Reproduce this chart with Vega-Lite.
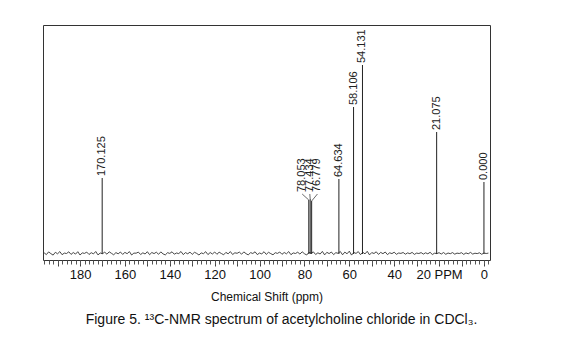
{
  "$schema": "https://vega.github.io/schema/vega-lite/v6.json",
  "width": 447,
  "height": 235,
  "autosize": "none",
  "padding": {"left": 43, "top": 25, "right": 79, "bottom": 85},
  "background": "white",
  "config": {
    "view": {"stroke": "#333", "strokeWidth": 1},
    "font": "Liberation Sans"
  },
  "title": {
    "text": "Figure 5. ¹³C-NMR spectrum of acetylcholine chloride in CDCl₃.",
    "orient": "bottom",
    "anchor": "middle",
    "offset": 11,
    "dx": 15,
    "fontSize": 14,
    "fontWeight": "normal",
    "font": "Liberation Sans",
    "color": "#111"
  },
  "datasets": {
    "noise": [
      {"ppm":196,"v":1.2},{"ppm":195,"v":-0.6},{"ppm":194,"v":2.1},{"ppm":193,"v":0.4},{"ppm":192,"v":-1.1},{"ppm":191,"v":1.7},{"ppm":190,"v":0.2},{"ppm":189,"v":2.4},{"ppm":188,"v":-0.7},{"ppm":187,"v":0.9},
      {"ppm":186,"v":0.5},{"ppm":185,"v":2.2},{"ppm":184,"v":-0.4},{"ppm":183,"v":1.5},{"ppm":182,"v":-0.1},{"ppm":181,"v":2.3},{"ppm":180,"v":-1.0},{"ppm":179,"v":1.1},{"ppm":178,"v":0.6},{"ppm":177,"v":1.9},
      {"ppm":176,"v":-0.5},{"ppm":175,"v":1.3},{"ppm":174,"v":0.1},{"ppm":173,"v":2.5},{"ppm":172,"v":-0.9},{"ppm":171,"v":1.0},{"ppm":170,"v":0.3},{"ppm":169,"v":1.8},{"ppm":168,"v":-0.2},{"ppm":167,"v":2.2},
      {"ppm":166,"v":0.7},{"ppm":165,"v":-0.8},{"ppm":164,"v":1.4},{"ppm":163,"v":0.2},{"ppm":162,"v":2.0},{"ppm":161,"v":-0.4},{"ppm":160,"v":1.6},{"ppm":159,"v":0.3},{"ppm":158,"v":2.4},{"ppm":157,"v":-1.0},
      {"ppm":156,"v":0.9},{"ppm":155,"v":0.8},{"ppm":154,"v":1.9},{"ppm":153,"v":-0.5},{"ppm":152,"v":1.2},{"ppm":151,"v":0.0},{"ppm":150,"v":2.3},{"ppm":149,"v":-0.7},{"ppm":148,"v":1.5},{"ppm":147,"v":0.4},
      {"ppm":146,"v":1.8},{"ppm":145,"v":-0.3},{"ppm":144,"v":2.1},{"ppm":143,"v":0.1},{"ppm":142,"v":-0.9},{"ppm":141,"v":1.3},{"ppm":140,"v":0.6},{"ppm":139,"v":2.2},{"ppm":138,"v":-0.2},{"ppm":137,"v":1.0},
      {"ppm":136,"v":0.4},{"ppm":135,"v":2.5},{"ppm":134,"v":-0.6},{"ppm":133,"v":1.4},{"ppm":132,"v":0.2},{"ppm":131,"v":1.9},{"ppm":130,"v":-0.4},{"ppm":129,"v":1.7},{"ppm":128,"v":0.6},{"ppm":127,"v":-1.0},
      {"ppm":126,"v":1.1},{"ppm":125,"v":0.3},{"ppm":124,"v":2.3},{"ppm":123,"v":-0.6},{"ppm":122,"v":1.5},{"ppm":121,"v":0.0},{"ppm":120,"v":2.0},{"ppm":119,"v":-0.3},{"ppm":118,"v":1.8},{"ppm":117,"v":0.5},
      {"ppm":116,"v":-0.8},{"ppm":115,"v":1.6},{"ppm":114,"v":0.2},{"ppm":113,"v":2.4},{"ppm":112,"v":-0.5},{"ppm":111,"v":1.2},{"ppm":110,"v":0.7},{"ppm":109,"v":1.9},{"ppm":108,"v":-0.2},{"ppm":107,"v":2.1},
      {"ppm":106,"v":0.3},{"ppm":105,"v":-0.9},{"ppm":104,"v":1.4},{"ppm":103,"v":0.5},{"ppm":102,"v":2.2},{"ppm":101,"v":-0.6},{"ppm":100,"v":1.0},{"ppm":99,"v":0.1},{"ppm":98,"v":2.3},{"ppm":97,"v":-0.4},
      {"ppm":96,"v":1.7},{"ppm":95,"v":0.4},{"ppm":94,"v":-0.8},{"ppm":93,"v":1.3},{"ppm":92,"v":0.6},{"ppm":91,"v":2.0},{"ppm":90,"v":-0.3},{"ppm":89,"v":1.5},{"ppm":88,"v":0.2},{"ppm":87,"v":2.4},
      {"ppm":86,"v":-0.7},{"ppm":85,"v":1.1},{"ppm":84,"v":0.5},{"ppm":83,"v":1.8},{"ppm":82,"v":-0.1},{"ppm":81,"v":2.2},{"ppm":80,"v":0.3},{"ppm":79,"v":-1.0},{"ppm":78,"v":1.6},{"ppm":77,"v":0.8},
      {"ppm":76,"v":2.1},{"ppm":75,"v":-0.5},{"ppm":74,"v":1.2},{"ppm":73,"v":0.0},{"ppm":72,"v":2.6},{"ppm":71,"v":-0.9},{"ppm":70,"v":1.7},{"ppm":69,"v":0.4},{"ppm":68,"v":2.0},{"ppm":67,"v":-0.6},
      {"ppm":66,"v":1.3},{"ppm":65,"v":0.7},{"ppm":64,"v":2.5},{"ppm":63,"v":-0.8},{"ppm":62,"v":1.9},{"ppm":61,"v":0.2},{"ppm":60,"v":2.8},{"ppm":59,"v":-1.1},{"ppm":58,"v":1.5},{"ppm":57,"v":0.6},
      {"ppm":56,"v":2.4},{"ppm":55,"v":-0.7},{"ppm":54,"v":1.8},{"ppm":53,"v":0.1},{"ppm":52,"v":2.7},{"ppm":51,"v":-0.9},{"ppm":50,"v":1.4},{"ppm":49,"v":0.5},{"ppm":48,"v":2.2},{"ppm":47,"v":-0.4},
      {"ppm":46,"v":1.6},{"ppm":45,"v":0.3},{"ppm":44,"v":2.0},{"ppm":43,"v":-0.6},{"ppm":42,"v":1.2},{"ppm":41,"v":0.4},{"ppm":40,"v":1.8},{"ppm":39,"v":-0.3},{"ppm":38,"v":1.0},{"ppm":37,"v":0.6},
      {"ppm":36,"v":1.5},{"ppm":35,"v":-0.2},{"ppm":34,"v":1.1},{"ppm":33,"v":0.3},{"ppm":32,"v":1.6},{"ppm":31,"v":-0.4},{"ppm":30,"v":0.9},{"ppm":29,"v":0.5},{"ppm":28,"v":1.4},{"ppm":27,"v":-0.1},
      {"ppm":26,"v":1.2},{"ppm":25,"v":0.2},{"ppm":24,"v":1.7},{"ppm":23,"v":-0.5},{"ppm":22,"v":0.8},{"ppm":21,"v":0.4},{"ppm":20,"v":1.3},{"ppm":19,"v":0.0},{"ppm":18,"v":1.5},{"ppm":17,"v":-0.3},
      {"ppm":16,"v":1.0},{"ppm":15,"v":0.3},{"ppm":14,"v":1.4},{"ppm":13,"v":-0.2},{"ppm":12,"v":0.9},{"ppm":11,"v":0.5},{"ppm":10,"v":1.3},{"ppm":9,"v":-0.4},{"ppm":8,"v":1.1},{"ppm":7,"v":0.2},
      {"ppm":6,"v":1.6},{"ppm":5,"v":-0.1},{"ppm":4,"v":0.8},{"ppm":3,"v":0.4},{"ppm":2,"v":1.2},{"ppm":1,"v":-0.3},{"ppm":0,"v":1.0},{"ppm":-1,"v":0.5},{"ppm":-2,"v":0.9}
    ],
    "peaks": [
      {"ppm":170.125,"h":76,"lp":170.125,"lh":76,"label":"170.125"},
      {"ppm":78.053,"h":54,"lp":81.0,"lh":60,"label":"78.053"},
      {"ppm":77.434,"h":55,"lp":77.6,"lh":60,"label":"77.434"},
      {"ppm":76.779,"h":53,"lp":74.2,"lh":60,"label":"76.779"},
      {"ppm":64.634,"h":75,"lp":64.634,"lh":75,"label":"64.634"},
      {"ppm":58.106,"h":147,"lp":58.106,"lh":147,"label":"58.106"},
      {"ppm":54.131,"h":189,"lp":54.131,"lh":189,"label":"54.131"},
      {"ppm":21.075,"h":122,"lp":21.075,"lh":122,"label":"21.075"},
      {"ppm":0.0,"h":72,"lp":0.0,"lh":72,"label":"0.000"}
    ]
  },
  "resolve": {"axis": {"x": "independent"}},
  "layer": [
    {
      "data": {"name": "noise"},
      "mark": {"type": "line", "color": "#333", "strokeWidth": 0.9},
      "encoding": {
        "x": {
          "field": "ppm", "type": "quantitative",
          "scale": {"domain": [196.5, -2.7], "nice": false, "zero": false},
          "axis": {
            "orient": "bottom",
            "values": [190,180,170,160,150,140,130,120,110,100,90,80,70,60,50,40,30,20,10,0],
            "labelExpr": "datum.value == 20 ? '20 PPM' : (datum.value % 20 == 0 ? datum.label : '')",
            "domain": false,
            "grid": false,
            "tickSize": 6,
            "tickColor": "#444",
            "labelFontSize": 13,
            "labelFont": "Liberation Sans",
            "labelColor": "#111",
            "labelPadding": 2,
            "labelFlush": false,
            "labelOverlap": false,
            "title": "Chemical Shift (ppm)",
            "titleFont": "Liberation Sans",
            "titleFontSize": 12,
            "titleFontWeight": "normal",
            "titleColor": "#111",
            "titlePadding": 10
          }
        },
        "y": {
          "field": "v", "type": "quantitative",
          "scale": {"domain": [-6, 229], "nice": false, "zero": false},
          "axis": null
        }
      }
    },
    {
      "data": {"name": "peaks"},
      "mark": {"type": "rule", "color": "#222", "strokeWidth": 1},
      "encoding": {
        "x": {
          "field": "ppm", "type": "quantitative",
          "axis": {
            "orient": "bottom",
            "values": [196,194,192,190,188,186,184,182,180,178,176,174,172,170,168,166,164,162,160,158,156,154,152,150,148,146,144,142,140,138,136,134,132,130,128,126,124,122,120,118,116,114,112,110,108,106,104,102,100,98,96,94,92,90,88,86,84,82,80,78,76,74,72,70,68,66,64,62,60,58,56,54,52,50,48,46,44,42,40,38,36,34,32,30,28,26,24,22,20,18,16,14,12,10,8,6,4,2,0,-2],
            "labels": false,
            "domain": false,
            "grid": false,
            "tickSize": 4,
            "tickColor": "#555",
            "title": null
          }
        },
        "y": {"field": "h", "type": "quantitative", "axis": null},
        "y2": {"datum": 0}
      }
    },
    {
      "data": {"name": "peaks"},
      "mark": {"type": "rule", "color": "#444", "strokeWidth": 0.8},
      "encoding": {
        "x": {"field": "lp", "type": "quantitative", "axis": null},
        "x2": {"field": "ppm"},
        "y": {"field": "lh", "type": "quantitative", "axis": null},
        "y2": {"field": "h"}
      }
    },
    {
      "data": {"name": "peaks"},
      "mark": {"type": "text", "angle": 270, "align": "left", "baseline": "middle", "dx": 2, "fontSize": 11, "font": "Liberation Sans", "color": "#222"},
      "encoding": {
        "x": {"field": "lp", "type": "quantitative", "axis": null},
        "y": {"field": "lh", "type": "quantitative", "axis": null},
        "text": {"field": "label"}
      }
    }
  ]
}
